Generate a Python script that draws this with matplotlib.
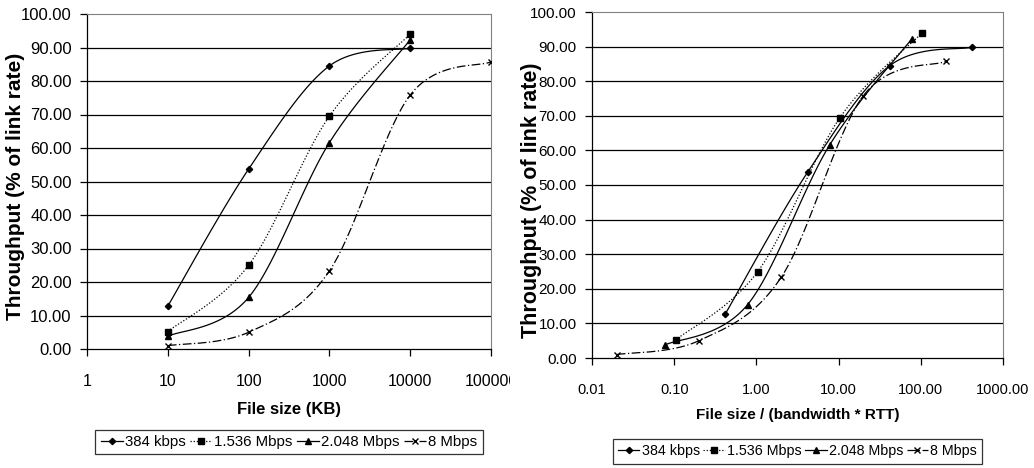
import numpy as np
import matplotlib
matplotlib.use("Agg")
import matplotlib.pyplot as plt
from matplotlib.transforms import Bbox

plt.rcParams['font.family'] = ['Liberation Sans', 'DejaVu Sans']

# series names
series = ["384 kbps", "1.536 Mbps", "2.048 Mbps", "8 Mbps"]

# left chart: file size (KB)
size_kb = [10, 100, 1000, 10000]
size_kb_8m = [10, 100, 1000, 10000, 100000]

# throughput (% of link rate)
thr_384 = [12.8, 53.7, 84.5, 89.8]
thr_1536 = [5.2, 25.0, 69.5, 94.0]
thr_2048 = [3.8, 15.4, 61.6, 92.3]
thr_8m = [1.0, 5.0, 23.3, 75.8, 85.7]

# right chart: file size / (bandwidth * RTT)
norm_384 = [0.42, 4.2, 42.0, 420.0]
norm_1536 = [0.104, 1.04, 10.4, 104.0]
norm_2048 = [0.078, 0.78, 7.8, 78.0]
norm_8m = [0.02, 0.2, 2.0, 20.0, 200.0]

left_ticks = ["1", "10", "100", "1000", "10000", "100000"]
right_ticks = ["0.01", "0.10", "1.00", "10.00", "100.00", "1000.00"]

markers = ['D', 's', '^', 'x']
msizes = [3.2, 4.5, 4.5, 5]
dashes = [None, (1, 1.5), None, (7, 2, 1, 2)]

W, H = 1034, 468


def smooth(ax, xs, ys, n=40):
    # excel-like smoothed line, computed in pixel space
    pts = ax.transData.transform(np.column_stack([xs, ys]))
    p = np.vstack([pts[0], pts, pts[-1]])
    out = []
    for i in range(1, len(p) - 2):
        p0, p1, p2, p3 = p[i - 1], p[i], p[i + 1], p[i + 2]
        c1 = p1 + (p2 - p0) / 6
        c2 = p2 - (p3 - p1) / 6
        t = np.linspace(0, 1, n)[:, None]
        seg = ((1 - t) ** 3) * p1 + 3 * ((1 - t) ** 2) * t * c1 + 3 * (1 - t) * t ** 2 * c2 + t ** 3 * p2
        out.append(seg)
    out = np.vstack(out)
    d = ax.transData.inverted().transform(out)
    return d[:, 0], d[:, 1]


def setup(ax, xlim, ticks, xlabel, ytick_fs, xtick_fs, xlab_fs, ylab_fs):
    ax.set_xscale('log')
    ax.set_xlim(*xlim)
    ax.set_ylim(0, 100)
    ax.set_yticks(np.arange(0, 101, 10))
    ax.set_yticklabels(["%.2f" % v for v in np.arange(0, 101, 10)])
    ax.xaxis.set_minor_locator(plt.NullLocator())
    ax.set_xticks([xlim[0] * 10 ** k for k in range(6)])
    ax.set_xticklabels(ticks)
    for v in range(10, 100, 10):
        ax.axhline(v, color='black', lw=0.9, zorder=1)
    ax.spines['top'].set_color('#808080')
    ax.spines['right'].set_color('#808080')
    ax.spines['left'].set_linewidth(0.9)
    ax.spines['bottom'].set_linewidth(0.9)
    ax.tick_params(axis='both', direction='out', length=5, width=0.9)
    ax.tick_params(axis='y', labelsize=ytick_fs, pad=6)
    ax.tick_params(axis='x', labelsize=xtick_fs, pad=13)
    ax.set_xlabel(xlabel, fontsize=xlab_fs, fontweight='bold')
    ax.set_ylabel("Throughput (% of link rate)", fontsize=ylab_fs, fontweight='bold')


fig = plt.figure(figsize=(W / 100, H / 100), dpi=100)
ax1 = fig.add_axes([87 / W, 1 - 349 / H, (491 - 87) / W, (349 - 14) / H])
ax2 = fig.add_axes([592 / W, 1 - 358 / H, (1003 - 592) / W, (358 - 12) / H])

setup(ax1, (1, 100000), left_ticks, "File size (KB)", 12, 11.5, 12, 15)
setup(ax2, (0.01, 1000), right_ticks, "File size / (bandwidth * RTT)", 11, 10.5, 11, 15.5)

# label placement
ax1.yaxis.set_label_coords((25 - 87) / 404, 0.485)
ax2.yaxis.set_label_coords((542 - 592) / 411, 0.457)
ax1.xaxis.set_label_coords(0.5, -(402 - 349) / 335)
ax2.xaxis.set_label_coords(0.5, -(408 - 358) / 346)

left_data = [(size_kb, thr_384), (size_kb, thr_1536), (size_kb, thr_2048), (size_kb_8m, thr_8m)]
right_data = [(norm_384, thr_384), (norm_1536, thr_1536), (norm_2048, thr_2048), (norm_8m, thr_8m)]

for ax, data, leg_box, lfs in [(ax1, left_data, (96, 429, 482, 455), 10.8),
                               (ax2, right_data, (617, 438, 978, 465), 10.3)]:
    handles = []
    for (xs, ys), name, m, ms, ds in zip(data, series, markers, msizes, dashes):
        sx, sy = smooth(ax, xs, ys)
        ln, = ax.plot(sx, sy, color='black', lw=0.9, zorder=3)
        if ds is not None:
            ln.set_dashes(ds)
        ax.plot(xs, ys, ls='none', marker=m, ms=ms, color='black', mew=1.0, zorder=4)
        h, = ax.plot([], [], color='black', lw=0.9, marker=m, ms=ms, mew=1.0)
        if ds is not None:
            h.set_dashes(ds)
        handles.append(h)
    x0, y0, x1, y1 = leg_box
    leg = fig.legend(handles, series, loc='center',
                     bbox_to_anchor=((x0 + x1) / 2 / W, 1 - (y0 + y1) / 2 / H),
                     ncol=4, fontsize=lfs, frameon=True, fancybox=False, edgecolor='black',
                     handlelength=1.5, handletextpad=0.15, columnspacing=0.25,
                     borderpad=0.35, borderaxespad=0)
    leg.get_frame().set_linewidth(0.9)

# clip the last tick label of the left chart like the original
clip = Bbox.from_extents(0, 0, 510, H)
fig.canvas.draw()
ax1.get_xticklabels()[-1].set_clip_box(clip)
ax1.get_xticklabels()[-1].set_clip_on(True)

fig.savefig("out.png", dpi=100)
